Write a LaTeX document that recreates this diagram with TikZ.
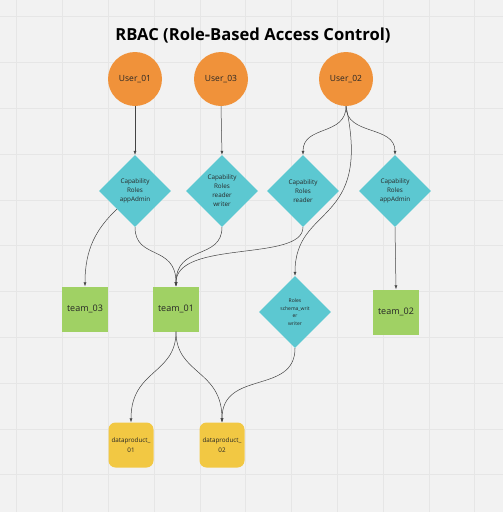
\documentclass[tikz,border=0pt]{standalone}
\usepackage{fontspec}
\setmainfont{Open Sans}
\usetikzlibrary{shapes.geometric,arrows.meta}
\definecolor{bgc}{HTML}{F2F2F2}
\definecolor{gridc}{HTML}{E6E6E6}
\definecolor{userc}{HTML}{F0923A}
\definecolor{rolec}{HTML}{5CC8D1}
\definecolor{teamc}{HTML}{A0D164}
\definecolor{dpc}{HTML}{F2C843}
\definecolor{txtc}{HTML}{262626}
\definecolor{linec}{HTML}{444444}
\tikzset{
  userbox/.style={circle, fill=userc, minimum size=54pt, inner sep=0pt, text=txtc, font=\fontsize{8.5}{10}\selectfont},
  rolebox/.style={diamond, fill=rolec, minimum width=72pt, minimum height=72pt, aspect=1, inner sep=0pt, text=txtc, align=center, font=\fontsize{6.3}{9}\selectfont},
  rolesmall/.style={rolebox, font=\fontsize{5}{7.7}\selectfont},
  teambox/.style={rectangle, fill=teamc, minimum width=46pt, minimum height=45pt, inner sep=0pt, text=txtc, font=\fontsize{9}{11}\selectfont},
  dpbox/.style={rectangle, rounded corners=7pt, fill=dpc, minimum width=45pt, minimum height=45pt, inner sep=0pt, text=txtc, align=center, font=\fontsize{6.3}{9.3}\selectfont},
  conn/.style={draw=linec, line width=0.5pt, -{Latex[length=4pt,width=3pt]}},
}
\begin{document}
\begin{tikzpicture}[x=1pt,y=-1pt]
\fill[bgc] (0,0) rectangle (503,512);
\useasboundingbox (0,0) rectangle (503,512);
\foreach \i in {0,...,10} {
  \draw[gridc, line width=0.6pt] ({16.6+45.8*\i},0) -- ({16.6+45.8*\i},512);
  \draw[gridc, line width=0.6pt] (0,{16.6+45.8*\i}) -- (503,{16.6+45.8*\i});
}
\node[font=\bfseries\fontsize{16.6}{19}\selectfont, text=black] (title) at (253,36) {RBAC (Role-Based Access Control)};

\node[userbox] (u1) at (135,79) {User\_01};
\node[userbox] (u3) at (221,79) {User\_03};
\node[userbox] (u2) at (346,79) {User\_02};

\node[rolebox] (d1) at (135,191) {Capability\\Roles\\appAdmin};
\node[rolebox] (d2) at (222,191) {Capability\\Roles\\reader\\writer};
\node[rolebox] (d3) at (303,191) {Capability\\Roles\\reader};
\node[rolebox] (d4) at (395,191) {Capability\\Roles\\appAdmin};

\node[teambox] (t3) at (85,309) {team\_03};
\node[teambox] (t1) at (176,309) {team\_01};
\node[rolesmall] (s) at (295,312) {Roles\\schema\_writ\\er\\writer};
\node[teambox] (t2) at (396,312) {team\_02};

\node[dpbox] (p1) at (131,445) {dataproduct\_\\01};
\node[dpbox] (p2) at (222,445) {dataproduct\_\\02};

\draw[conn] (u1.south) -- (d1.north);
\draw[conn] (u3.south) -- (d2.north);
\draw[conn] (u2.south) .. controls +(0,30) and +(0,-30) .. (d3.north);
\draw[conn] (u2.south) .. controls +(0,30) and +(0,-30) .. (d4.north);
\draw[conn] (u2.south) .. controls +(26,120) and +(0,-72) .. (s.north);

\draw[conn] (d1.south west) .. controls +(-21,20) and +(0,-37) .. (t3.north);
\draw[conn] (d1.south) .. controls +(0,33) and +(0,-42) .. (t1.north);
\draw[conn] (d2.south) .. controls +(0,33) and +(0,-42) .. (t1.north);
\draw[conn] (d3.south) .. controls +(0,35) and +(0,-47) .. (t1.north);
\draw[conn] (d4.south) -- (t2.north);

\draw[conn] (t1.south) .. controls +(0,43) and +(0,-53) .. (p1.north);
\draw[conn] (t1.south) .. controls +(0,43) and +(0,-53) .. (p2.north);
\draw[conn] (s.south) .. controls +(0,47) and +(0,-53) .. (p2.north);
\end{tikzpicture}
\end{document}
